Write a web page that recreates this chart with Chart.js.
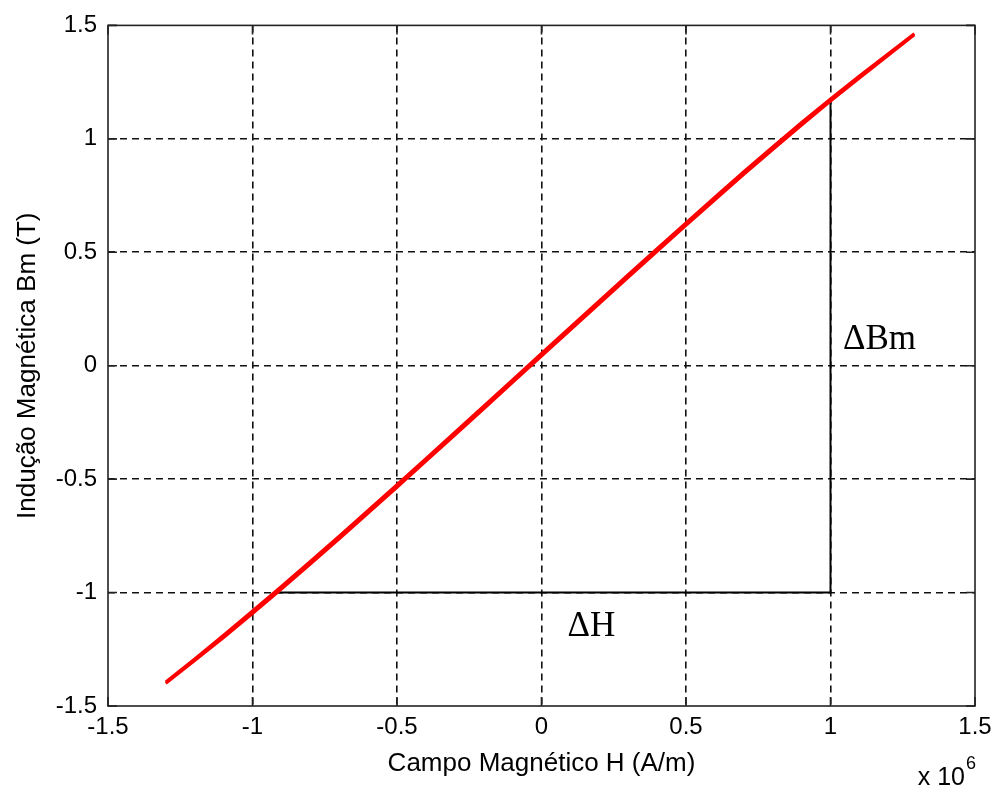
<!DOCTYPE html>
<html>
<head>
<meta charset="utf-8">
<script src="https://cdn.jsdelivr.net/npm/chart.js@4.4.1/dist/chart.umd.min.js"></script>
<style>
  html, body { margin: 0; padding: 0; background: #fff; }
  #wrap { width: 1000px; height: 789px; position: relative; }
</style>
</head>
<body>
<div id="wrap"><canvas id="loopChart"></canvas></div>
<script>
const fieldH = [
  -1.30e6, -1.20e6, -1.10e6, -1.00e6, -0.90e6, -0.80e6, -0.70e6, -0.60e6, -0.50e6,
  -0.40e6, -0.30e6, -0.20e6, -0.10e6, 0.00e6, 0.10e6, 0.20e6, 0.30e6, 0.40e6,
  0.50e6, 0.60e6, 0.70e6, 0.80e6, 0.90e6, 1.00e6, 1.10e6, 1.20e6, 1.29e6
];
// Indução Bm (T) no ramo ascendente
const bRising = [
  -1.400, -1.300, -1.198, -1.093, -0.985, -0.875, -0.763, -0.650, -0.536,
  -0.421, -0.306, -0.190, -0.074, 0.042, 0.158, 0.274, 0.389, 0.504,
  0.618, 0.731, 0.843, 0.953, 1.061, 1.166, 1.268, 1.368, 1.458
];
// Indução Bm (T) no ramo descendente
const bFalling = [
  -1.394, -1.292, -1.188, -1.081, -0.973, -0.863, -0.751, -0.638, -0.524,
  -0.409, -0.294, -0.178, -0.062, 0.054, 0.170, 0.286, 0.401, 0.516,
  0.630, 0.743, 0.855, 0.965, 1.072, 1.176, 1.277, 1.375, 1.464
];
const xTicks = [-1.5, -1, -0.5, 0, 0.5, 1, 1.5];
const yTicks = [-1.5, -1, -0.5, 0, 0.5, 1, 1.5];

// niveis usados para marcar ΔH e ΔBm
const bLevel = -1;
const hLevel = 1e6;

const toPoints = (hs, bs) => hs.map((h, i) => ({ x: h, y: bs[i] }));

// valor de "a" onde a curva (a, b) cruza b = level
const crossAt = (as, bs, level) => {
  for (let i = 1; i < as.length; i++) {
    if ((bs[i - 1] - level) * (bs[i] - level) <= 0) {
      const t = (level - bs[i - 1]) / (bs[i] - bs[i - 1]);
      return as[i - 1] + t * (as[i] - as[i - 1]);
    }
  }
  return as[0];
};

const hStart = crossAt(fieldH, bRising, bLevel);
const bTop = crossAt(bRising, fieldH, hLevel);

const sansFont = "'Liberation Sans', Arial, sans-serif";
const serifFont = "'Liberation Serif', 'Times New Roman', serif";

// caixa, marcas internas e textos extras
const framePlugin = {
  id: 'frame',
  afterDraw(chart) {
    const { ctx, chartArea: a, scales } = chart;
    const tickLen = 9;
    ctx.save();
    ctx.strokeStyle = '#222';
    ctx.lineWidth = 1.6;
    ctx.setLineDash([]);
    ctx.strokeRect(a.left, a.top, a.right - a.left, a.bottom - a.top);

    ctx.beginPath();
    xTicks.forEach(v => {
      const px = scales.x.getPixelForValue(v * 1e6);
      ctx.moveTo(px, a.bottom); ctx.lineTo(px, a.bottom - tickLen);
      ctx.moveTo(px, a.top); ctx.lineTo(px, a.top + tickLen);
    });
    yTicks.forEach(v => {
      const py = scales.y.getPixelForValue(v);
      ctx.moveTo(a.left, py); ctx.lineTo(a.left + tickLen, py);
      ctx.moveTo(a.right, py); ctx.lineTo(a.right - tickLen, py);
    });
    ctx.stroke();

    // fator de escala do eixo x
    ctx.fillStyle = '#000';
    ctx.textBaseline = 'alphabetic';
    ctx.textAlign = 'right';
    ctx.font = `25px ${sansFont}`;
    ctx.fillText('x 10', a.right - 10, 785);
    ctx.textAlign = 'left';
    ctx.font = `18px ${sansFont}`;
    ctx.fillText('6', a.right - 9, 769);

    // rótulos ΔBm e ΔH
    ctx.font = `35px ${serifFont}`;
    ctx.fillText('\u0394Bm', scales.x.getPixelForValue(1.043e6), scales.y.getPixelForValue(0.075));
    ctx.fillText('\u0394H', scales.x.getPixelForValue(0.09e6), scales.y.getPixelForValue(-1.19));
    ctx.restore();
  }
};

const edgeHidden = (ctx, color) => {
  const v = ctx.tick && ctx.tick.value;
  const scale = ctx.scale;
  if (v === undefined) return color;
  return (v === scale.min || v === scale.max) ? 'rgba(0,0,0,0)' : color;
};

new Chart(document.getElementById('loopChart'), {
  type: 'scatter',
  data: {
    datasets: [
      {
        label: 'ascendente',
        data: toPoints(fieldH, bRising),
        showLine: true,
        borderColor: '#ff0000',
        borderWidth: 3,
        pointRadius: 0,
        order: 1
      },
      {
        label: 'descendente',
        data: toPoints(fieldH, bFalling),
        showLine: true,
        borderColor: '#ff0000',
        borderWidth: 3,
        pointRadius: 0,
        order: 2
      },
      {
        label: 'delta',
        data: [
          { x: hStart, y: bLevel },
          { x: hLevel, y: bLevel },
          { x: hLevel, y: bTop }
        ],
        showLine: true,
        borderColor: '#000',
        borderWidth: 2,
        pointRadius: 0,
        order: 3
      }
    ]
  },
  options: {
    responsive: true,
    maintainAspectRatio: false,
    animation: false,
    layout: { padding: { top: 22, right: 25, left: 0, bottom: 0 } },
    plugins: {
      legend: { display: false },
      tooltip: { enabled: false }
    },
    scales: {
      x: {
        type: 'linear',
        min: -1.5e6,
        max: 1.5e6,
        afterFit: (s) => { s.height = 83; },
        afterBuildTicks: (s) => { s.ticks = xTicks.map(v => ({ value: v * 1e6 })); },
        ticks: {
          padding: 7,
          color: '#000',
          font: { family: sansFont, size: 24 },
          maxRotation: 0,
          callback: (v) => String(Math.round(v / 1e5) / 10)
        },
        grid: {
          drawTicks: false,
          lineWidth: 1.6,
          color: (ctx) => edgeHidden(ctx, '#111')
        },
        border: { display: false, dash: [7, 5] },
        title: {
          display: true,
          text: 'Campo Magnético H (A/m)',
          color: '#000',
          font: { family: sansFont, size: 26 },
          padding: { top: 0, bottom: 10 }
        }
      },
      y: {
        type: 'linear',
        min: -1.5,
        max: 1.5,
        afterFit: (s) => { s.width = 108; },
        afterBuildTicks: (s) => { s.ticks = yTicks.map(v => ({ value: v })); },
        ticks: {
          padding: 11,
          color: '#000',
          font: { family: sansFont, size: 24 },
          callback: (v) => String(v)
        },
        grid: {
          drawTicks: false,
          lineWidth: 1.6,
          color: (ctx) => edgeHidden(ctx, '#111')
        },
        border: { display: false, dash: [7, 5] },
        title: {
          display: true,
          text: 'Indução Magnética Bm (T)',
          color: '#000',
          font: { family: sansFont, size: 26 },
          padding: { top: 12, bottom: 0 }
        }
      }
    }
  },
  plugins: [framePlugin]
});
</script>
</body>
</html>
